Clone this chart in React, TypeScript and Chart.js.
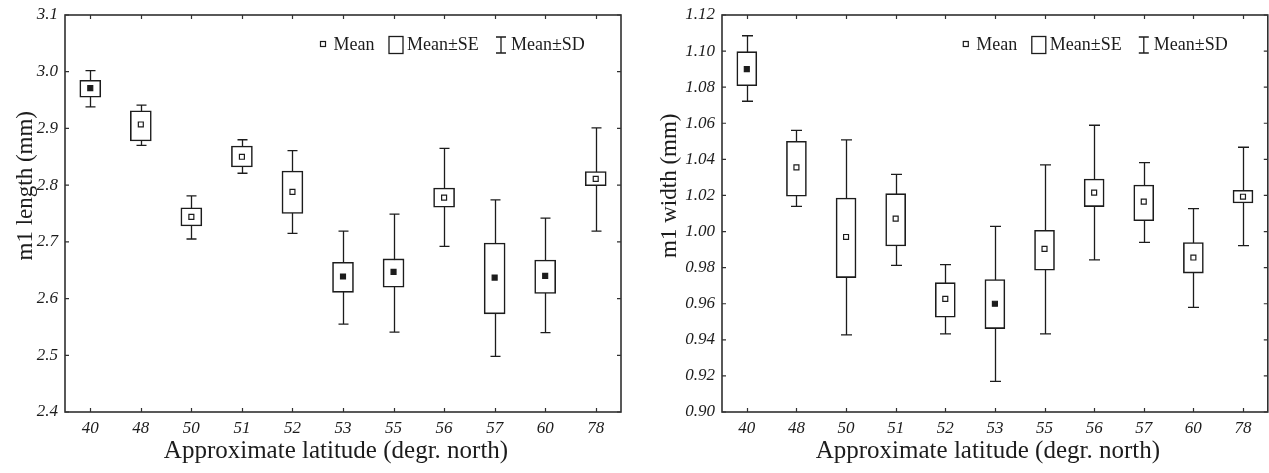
import React, { useEffect, useRef } from 'react';
import { Chart, registerables } from 'chart.js';

Chart.register(...registerables);

// ---------- data ----------
const latitudes = ['40', '48', '50', '51', '52', '53', '55', '56', '57', '60', '78'];

const lengthTicks = [2.4, 2.5, 2.6, 2.7, 2.8, 2.9, 3.0, 3.1];
const lengthMean = [2.971, 2.907, 2.744, 2.850, 2.788, 2.639, 2.647, 2.778, 2.637, 2.640, 2.811];
const lengthSeHigh = [2.985, 2.931, 2.760, 2.869, 2.825, 2.664, 2.670, 2.795, 2.698, 2.668, 2.824];
const lengthSeLow = [2.955, 2.878, 2.728, 2.832, 2.750, 2.611, 2.620, 2.761, 2.573, 2.609, 2.799];
const lengthSdHigh = [3.002, 2.941, 2.781, 2.880, 2.861, 2.719, 2.749, 2.865, 2.774, 2.742, 2.901];
const lengthSdLow = [2.938, 2.870, 2.705, 2.821, 2.715, 2.555, 2.541, 2.692, 2.498, 2.540, 2.719];
const lengthFilled = [true, false, false, false, false, true, true, false, true, true, false];

const widthTicks = [0.90, 0.92, 0.94, 0.96, 0.98, 1.00, 1.02, 1.04, 1.06, 1.08, 1.10, 1.12];
const widthMean = [1.090, 1.0356, 0.997, 1.0072, 0.9627, 0.960, 0.9904, 1.0216, 1.0166, 0.9856, 1.0193];
const widthSeHigh = [1.0997, 1.050, 1.0186, 1.021, 0.9717, 0.9734, 1.0007, 1.0291, 1.0258, 0.9939, 1.0229];
const widthSeLow = [1.0808, 1.0196, 0.9745, 0.992, 0.9525, 0.9462, 0.9786, 1.0138, 1.006, 0.977, 1.0158];
const widthSdHigh = [1.1085, 1.0561, 1.0508, 1.0317, 0.9817, 1.0029, 1.0369, 1.0589, 1.0382, 1.0127, 1.0467];
const widthSdLow = [1.0722, 1.014, 0.9427, 0.9813, 0.9433, 0.917, 0.9433, 0.9843, 0.994, 0.958, 0.9922];
const widthFilled = [true, false, false, false, false, true, false, false, false, false, false];

const xTitle = 'Approximate latitude (degr. north)';
const legendLabels = ['Mean', 'Mean±SE', 'Mean±SD'];

// ---------- styling ----------
const SERIF = '"Liberation Serif", "Times New Roman", serif';
const INK = '#1c1c1c';
const FRAME = '#303030';

type PanelSpec = {
  yTitle: string;
  yTicks: number[];
  decimals: number;
  mean: number[];
  seLow: number[];
  seHigh: number[];
  sdLow: number[];
  sdHigh: number[];
  filled: boolean[];
  yAxisWidth: number;
  padRight: number;
  barWidth: number;
  capWidth: number;
  yTitleX: number;
  legendOffset: number;
};

function decorPlugin(spec: PanelSpec) {
  return {
    id: 'boxDecor',
    beforeDatasetsDraw(chart: any) {
      const { ctx } = chart;
      const xs = chart.scales.x;
      const ys = chart.scales.y;
      ctx.save();
      ctx.strokeStyle = INK;
      ctx.lineWidth = 1.3;
      for (let i = 0; i < latitudes.length; i++) {
        const x = Math.round(xs.getPixelForValue(i)) + 0.5;
        const yTop = ys.getPixelForValue(spec.sdHigh[i]);
        const yBot = ys.getPixelForValue(spec.sdLow[i]);
        const half = spec.capWidth / 2;
        ctx.beginPath();
        ctx.moveTo(x, yTop);
        ctx.lineTo(x, yBot);
        ctx.moveTo(x - half, yTop);
        ctx.lineTo(x + half, yTop);
        ctx.moveTo(x - half, yBot);
        ctx.lineTo(x + half, yBot);
        ctx.stroke();
      }
      ctx.restore();
    },
    afterDraw(chart: any) {
      const { ctx, chartArea } = chart;
      const { left, right, top, bottom } = chartArea;
      const xs = chart.scales.x;
      const ys = chart.scales.y;
      ctx.save();
      // frame
      ctx.strokeStyle = FRAME;
      ctx.lineWidth = 1.6;
      ctx.strokeRect(left, top, right - left, bottom - top);
      // inward ticks
      ctx.lineWidth = 1.2;
      ctx.beginPath();
      const tl = 4;
      for (const v of spec.yTicks) {
        const y = ys.getPixelForValue(v);
        ctx.moveTo(left, y);
        ctx.lineTo(left + tl, y);
        ctx.moveTo(right, y);
        ctx.lineTo(right - tl, y);
      }
      for (let i = 0; i < latitudes.length; i++) {
        const x = Math.round(xs.getPixelForValue(i)) + 0.5;
        ctx.moveTo(x, bottom);
        ctx.lineTo(x, bottom - tl);
        ctx.moveTo(x, top);
        ctx.lineTo(x, top + tl);
      }
      ctx.stroke();

      // titles
      ctx.fillStyle = INK;
      ctx.font = `25px ${SERIF}`;
      ctx.textAlign = 'center';
      ctx.textBaseline = 'middle';
      ctx.fillText(xTitle, (left + right) / 2 - 7, 451);
      ctx.save();
      ctx.translate(spec.yTitleX, top + (bottom - top) * 0.43);
      ctx.rotate(-Math.PI / 2);
      ctx.font = `23px ${SERIF}`;
      ctx.fillText(spec.yTitle, 0, 0);
      ctx.restore();

      // legend
      const mx = right - spec.legendOffset;
      const ly = 44;
      ctx.font = `18px ${SERIF}`;
      ctx.textAlign = 'left';
      ctx.textBaseline = 'middle';
      ctx.strokeStyle = INK;
      ctx.lineWidth = 1.2;
      ctx.fillStyle = '#fff';
      ctx.fillRect(mx - 2.5, ly - 2.5, 5, 5);
      ctx.strokeRect(mx - 2.5, ly - 2.5, 5, 5);
      ctx.fillStyle = INK;
      ctx.fillText(legendLabels[0], mx + 10.5, ly + 1);
      // SE box
      ctx.lineWidth = 1.3;
      ctx.strokeRect(mx + 66, ly - 7.5, 14, 17);
      ctx.fillText(legendLabels[1], mx + 84, ly + 1);
      // SD whisker
      const wx = mx + 178;
      ctx.beginPath();
      ctx.moveTo(wx, ly - 7);
      ctx.lineTo(wx, ly + 9);
      ctx.moveTo(wx - 5, ly - 7);
      ctx.lineTo(wx + 5, ly - 7);
      ctx.moveTo(wx - 5, ly + 9);
      ctx.lineTo(wx + 5, ly + 9);
      ctx.stroke();
      ctx.fillText(legendLabels[2], mx + 188, ly + 1);
      ctx.restore();
    },
  };
}

function buildConfig(spec: PanelSpec): any {
  const yMin = spec.yTicks[0];
  const yMax = spec.yTicks[spec.yTicks.length - 1];
  return {
    type: 'bar',
    data: {
      labels: latitudes,
      datasets: [
        {
          type: 'line',
          label: legendLabels[0],
          data: spec.mean,
          showLine: false,
          pointStyle: 'rect',
          pointRadius: 3.5,
          pointBorderWidth: 1.2,
          pointBackgroundColor: spec.filled.map((f) => (f ? INK : '#ffffff')),
          pointBorderColor: INK,
          order: 0,
        },
        {
          type: 'bar',
          label: legendLabels[1],
          data: spec.seLow.map((lo, i) => [lo, spec.seHigh[i]]),
          backgroundColor: '#ffffff',
          borderColor: INK,
          borderWidth: 1.6,
          borderSkipped: false,
          barThickness: spec.barWidth,
          grouped: false,
          order: 1,
        },
      ],
    },
    options: {
      responsive: false,
      animation: false,
      events: [],
      layout: { padding: { top: 15, right: spec.padRight, bottom: 0, left: 0 } },
      plugins: {
        legend: { display: false },
        tooltip: { enabled: false },
        title: { display: false },
      },
      scales: {
        x: {
          type: 'category',
          offset: true,
          grid: { display: false, drawTicks: false },
          border: { display: false },
          ticks: {
            color: INK,
            padding: 6,
            maxRotation: 0,
            font: { family: SERIF, style: 'italic', size: 17 },
          },
          afterFit: (s: any) => {
            s.height = 61;
            s.paddingLeft = 0;
            s.paddingRight = 0;
          },
        },
        y: {
          type: 'linear',
          min: yMin,
          max: yMax,
          grid: { display: false, drawTicks: false },
          border: { display: false },
          afterBuildTicks: (s: any) => {
            s.ticks = spec.yTicks.map((v) => ({ value: v }));
          },
          ticks: {
            color: INK,
            padding: 7,
            font: { family: SERIF, style: 'italic', size: 17, lineHeight: 0.8 },
            callback: (v: any) => Number(v).toFixed(spec.decimals),
          },
          afterFit: (s: any) => {
            s.width = spec.yAxisWidth;
            s.paddingTop = 0;
            s.paddingBottom = 0;
          },
        },
      },
    },
    plugins: [decorPlugin(spec)],
  };
}

const lengthSpec: PanelSpec = {
  yTitle: 'm1 length (mm)',
  yTicks: lengthTicks,
  decimals: 1,
  mean: lengthMean,
  seLow: lengthSeLow,
  seHigh: lengthSeHigh,
  sdLow: lengthSdLow,
  sdHigh: lengthSdHigh,
  filled: lengthFilled,
  yAxisWidth: 65,
  padRight: 19,
  barWidth: 21,
  capWidth: 10,
  yTitleX: 26,
  legendOffset: 298,
};

const widthSpec: PanelSpec = {
  yTitle: 'm1 width (mm)',
  yTicks: widthTicks,
  decimals: 2,
  mean: widthMean,
  seLow: widthSeLow,
  seHigh: widthSeHigh,
  sdLow: widthSdLow,
  sdHigh: widthSdHigh,
  filled: widthFilled,
  yAxisWidth: 82,
  padRight: 0,
  barWidth: 20,
  capWidth: 11,
  yTitleX: 30,
  legendOffset: 302,
};

function Panel({ spec, left, width }: { spec: PanelSpec; left: number; width: number }) {
  const ref = useRef<HTMLCanvasElement>(null);
  useEffect(() => {
    const chart = new Chart(ref.current as HTMLCanvasElement, buildConfig(spec));
    return () => chart.destroy();
  }, [spec]);
  return (
    <canvas
      ref={ref}
      width={width}
      height={473}
      style={{ position: 'absolute', left, top: 0, width, height: 473 }}
    />
  );
}

export default function App() {
  return (
    <div
      style={{
        position: 'absolute',
        left: 0,
        top: 0,
        width: 1269,
        height: 473,
        background: '#ffffff',
        overflow: 'hidden',
      }}
    >
      <Panel spec={lengthSpec} left={0} width={640} />
      <Panel spec={widthSpec} left={640} width={633} />
    </div>
  );
}
